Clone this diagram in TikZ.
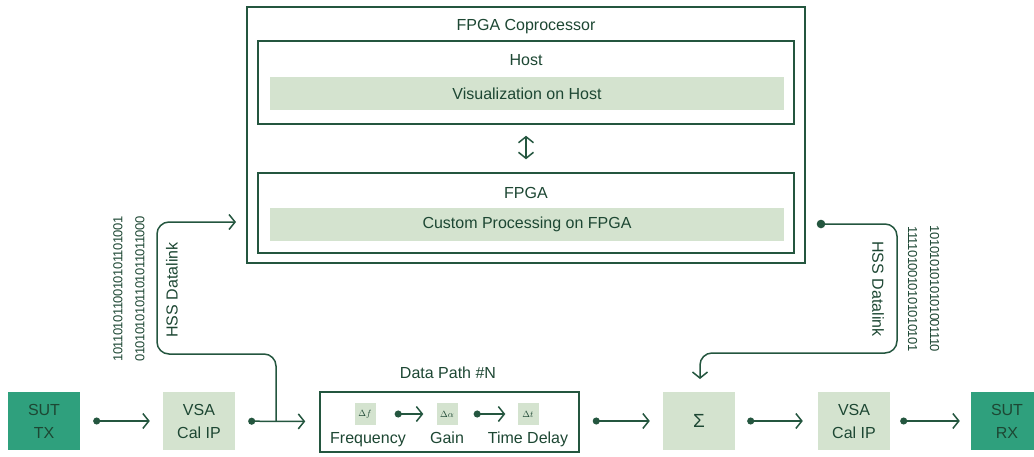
\documentclass[tikz,border=0pt]{standalone}
\usepackage{fontspec}
\setmainfont{Liberation Sans}
\usetikzlibrary{arrows.meta}
\definecolor{dk}{HTML}{24563F}
\definecolor{tx}{HTML}{1D4733}
\definecolor{teal}{HTML}{2FA07D}
\definecolor{lite}{HTML}{D4E3CF}
\tikzset{
  ln/.style={draw=dk, line width=1.5pt},
  frame/.style={ln, fill=white, inner sep=0pt},
  bar/.style={fill=lite, inner sep=0pt, text=tx, font=\fontsize{16}{19}\selectfont},
  blk/.style={fill=lite, inner sep=0pt, minimum width=72pt, minimum height=58pt, align=center, text=tx, font=\fontsize{16}{23}\selectfont},
  sutbox/.style={blk, fill=teal},
  lbl/.style={text=tx, inner sep=0pt, font=\fontsize{16}{19}\selectfont},
  small/.style={fill=lite, inner sep=0pt, minimum width=21pt, minimum height=22pt, text=tx, font=\fontsize{9}{10}\selectfont},
  bits/.style={text=tx, inner sep=0pt, align=center, font=\fontsize{13}{22}\selectfont\addfontfeatures{LetterSpace=-4}},
  tipb/.tip={Straight Barb[length=6pt,width=15pt]},
  darr/.style={ln, {Circle[length=7pt]}-tipb},
  oarr/.style={ln, -tipb},
}
\begin{document}
\begin{tikzpicture}[x=1pt,y=-1pt]
\useasboundingbox (0,0) rectangle (1034,456);
% top coprocessor
\node[frame, minimum width=558pt, minimum height=256pt] (cop) at (526,135) {};
\node[lbl, anchor=base] (copt) at (526,30) {FPGA Coprocessor};
\node[frame, minimum width=536pt, minimum height=83pt] (host) at (526,82.5) {};
\node[lbl, anchor=base] (hostt) at (526,65) {Host};
\node[bar, minimum width=514pt, minimum height=33pt] (vis) at (527,93.5) {Visualization on Host};
\node[frame, minimum width=536pt, minimum height=80pt] (fpga) at (526,213) {};
\node[lbl, anchor=base] (fpgat) at (526,198) {FPGA};
\node[bar, minimum width=514pt, minimum height=33pt] (cust) at (527,224.5) {Custom Processing on FPGA};
\draw[ln, tipb-tipb] ([yshift=-11pt]host.south) -- ([yshift=13pt]fpga.north);

% bottom row
\node[sutbox] (sut) at (44,421) {SUT\\TX};
\node[blk] (vsa1) at (199,421) {VSA\\Cal IP};
\node[frame, minimum width=259pt, minimum height=60pt] (dp) at (449.5,422) {};
\node[lbl, anchor=base] (dpt) at (448,378) {Data Path \#N};
\node[blk, font=\fontsize{19}{22}\selectfont] (sig) at (699,421) {Σ};
\node[blk] (vsa2) at (854,421) {VSA\\Cal IP};
\node[sutbox] (rx) at (1007,421) {SUT\\RX};

\node[small] (df) at (365,414) {$\Delta f$};
\node[small] (da) at (447,414) {$\Delta\alpha$};
\node[small] (dt) at (528,414) {$\Delta t$};
\node[lbl, anchor=base] (fq) at (368,443) {Frequency};
\node[lbl, anchor=base] (gn) at (447,443) {Gain};
\node[lbl, anchor=base] (td) at (528,443) {Time Delay};
\draw[darr, shorten <=19pt, shorten >=13pt] (df) -- (da);
\draw[darr, shorten <=16pt, shorten >=12pt] (da) -- (dt);

\draw[darr, shorten <=13pt, shorten >=13pt] (sut) -- (vsa1);
\draw[darr, shorten <=13pt, shorten >=14pt] (vsa1) -- (dp);
\draw[darr, shorten <=13pt, shorten >=13pt] (dp.east |- sig) -- (sig);
\draw[darr, shorten <=12pt, shorten >=15pt] (sig) -- (vsa2);
\draw[darr, shorten <=10pt, shorten >=11pt] (vsa2) -- (rx);

% datalinks
\coordinate (jL) at (276,421);
\coordinate (inL) at (236,222);
\draw[oarr, rounded corners=12pt] (jL) -- (276,354) -- (157,354) -- (157,222) -- (inL);
\coordinate (outR) at (821,224);
\coordinate (inR) at (700,379);
\draw[ln, fill=dk] (outR) circle (3.5pt);
\draw[oarr, rounded corners=12pt] (outR) -- (897,224) -- (897,353) -- (700,353) -- (inR);

\node[bits, rotate=90] (bl) at (129,289) {1011010110010101101001\\0101010101101011011000};
\node[lbl, rotate=90] (hl) at (172,290) {HSS Datalink};
\node[bits, rotate=-90] (br) at (923.5,289) {1010101010101001110\\1111010010101010101};
\node[lbl, rotate=-90] (hr) at (878,289) {HSS Datalink};
\end{tikzpicture}
\end{document}
